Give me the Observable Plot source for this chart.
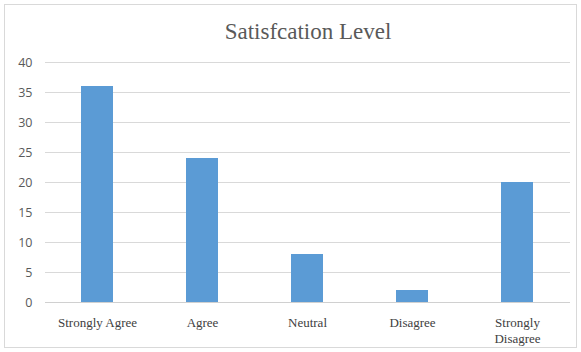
<!DOCTYPE html>
<html>
<head>
<meta charset="utf-8">
<script src="https://cdn.jsdelivr.net/npm/d3@7"></script>
<script src="https://cdn.jsdelivr.net/npm/@observablehq/plot@0.6"></script>
<style>
  html, body { margin: 0; padding: 0; background: #fff; }
  #chart svg { outline: 1px solid #d9d9d9; outline-offset: -5px; }
</style>
</head>
<body>
<div id="chart"></div>
<script>
const title = "Satisfcation Level";
const categories = ["Strongly Agree", "Agree", "Neutral", "Disagree", "Strongly Disagree"];
const values = [36, 24, 8, 2, 20];
const yTicks = [0, 5, 10, 15, 20, 25, 30, 35, 40];

const data = categories.map((c, i) => ({category: c, value: values[i]}));

const chart = Plot.plot({
  width: 581,
  height: 352,
  marginLeft: 45,
  marginRight: 11,
  marginTop: 62,
  marginBottom: 50,
  x: {domain: categories, paddingInner: 0.694, paddingOuter: 0.347, label: null},
  y: {domain: [0, 40], label: null},
  marks: [
    Plot.gridY(yTicks, {stroke: "#d9d9d9", strokeOpacity: 1, strokeWidth: 1}),
    Plot.barY(data, {x: "category", y: "value", fill: "#5b9bd5"}),
    Plot.ruleY([0], {stroke: "#d0d0d0", strokeWidth: 1}),
    Plot.axisY(yTicks, {tickSize: 0, tickPadding: 13, fontSize: 12.5, fontFamily: "Open Sans", fill: "#595959", label: null}),
    Plot.axisX({tickSize: 0, tickPadding: 12, fontSize: 13, fontFamily: "Liberation Serif", fill: "#404040", label: null, lineHeight: 1.3,
      tickFormat: d => d === "Strongly Disagree" ? "Strongly\nDisagree" : d}),
    Plot.text([title], {frameAnchor: "top", lineAnchor: "middle", dy: -31, fontSize: 23, fontFamily: "Liberation Serif", fill: "#595959", text: d => d})
  ]
});
document.getElementById("chart").appendChild(chart);
chart.querySelectorAll("text").forEach(e => getComputedStyle(e).fontFamily);
</script>
</body>
</html>
